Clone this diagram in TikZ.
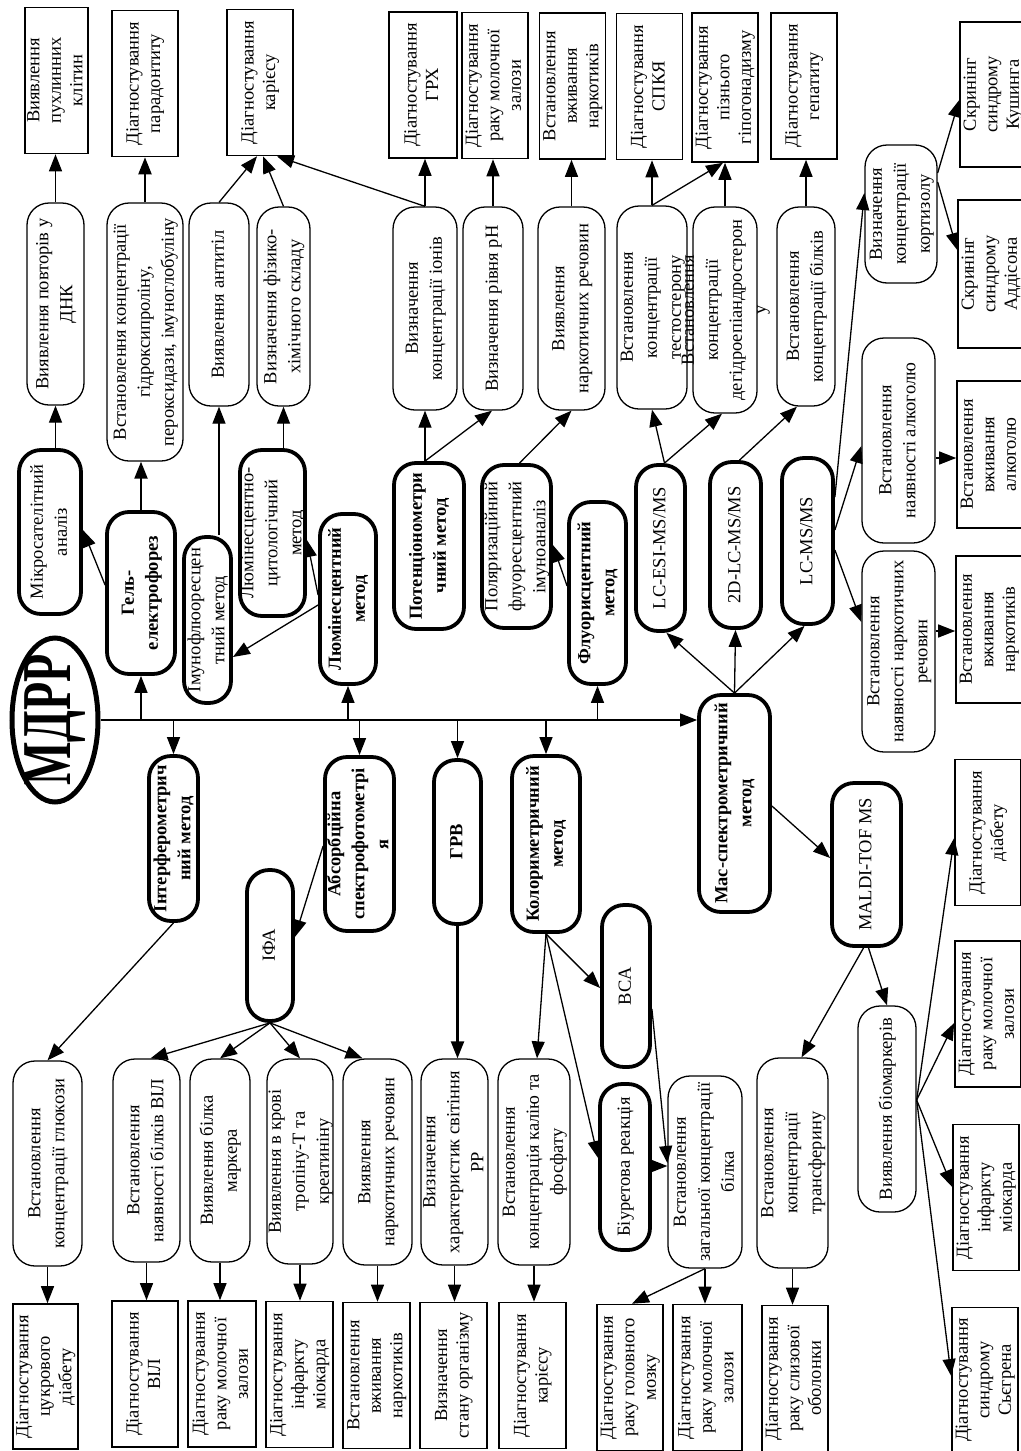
\documentclass[tikz,border=0pt]{standalone}
\usepackage{fontspec}
\setmainfont{Liberation Serif}
\usepackage{graphicx}
\usetikzlibrary{arrows.meta, shapes.geometric}
\newcommand{\uptext}[1]{\makebox[0pt]{\rotatebox{90}{\begin{tabular}{@{}c@{}}#1\end{tabular}}}}

\begin{document}
\begin{tikzpicture}[x=1pt, y=-1pt,
    res/.style={draw, line width=1.6pt, minimum width=66, minimum height=146,
                inner sep=0pt, font=\fontsize{18.5}{21.5}\selectfont},
    prc/.style={draw, line width=1.3pt, rounded corners=22, minimum width=62,
                minimum height=203, inner sep=0pt, font=\fontsize{18.5}{24}\selectfont},
    mth/.style={prc, line width=3.8pt, minimum height=164},
    bmth/.style={mth, font=\fontsize{18.5}{24}\selectfont\bfseries},
    arr/.style={-{Triangle[length=17pt,width=13pt]}, line width=1.3pt},
    bold arr/.style={arr, line width=2.2pt}]
  \useasboundingbox (0,0) rectangle (1020,1451);

  % top row of results
  \node[res, minimum width=63] (r1) at (56.5,80.5) {\uptext{Виявлення\\пухлинних\\клітин}};
  \node[res] (r2) at (145,83.5) {\uptext{Діагностування\\парадонтиту}};
  \node[res] (r3) at (260,82.5) {\uptext{Діагностування\\карієсу}};
  \node[res, minimum width=68] (r4) at (423,85) {\uptext{Діагностування\\ГРХ}};
  \node[res] (r5) at (495,85.5) {\uptext{Діагностування\\раку молочної\\залози}};
  \node[res] (r6) at (572.5,86) {\uptext{Встановлення\\вживання\\наркотиків}};
  \node[res] (r7) at (649.5,86.5) {\uptext{Діагностування\\СПКЯ}};
  \node[res, minimum height=149] (r8) at (725,87.5) {\uptext{Діагностування\\пізнього\\гіпогонадизму}};
  \node[res] (r9) at (804,86) {\uptext{Діагностування\\гепатиту}};
  \node[res, minimum height=145] (r10) at (993,94.5) {\uptext{Скринінг\\синдрому\\Кушинга}};
  \node[res, minimum height=148] (r11) at (991,274) {\uptext{Скринінг\\синдрому\\Аддісона}};

  % second row
  \node[prc, minimum width=57, minimum height=202] (p1) at (55.5,304) {\uptext{Виявлення повторів у\\ДНК}};
  \node[prc, minimum width=76, minimum height=258] (p2) at (145,332) {\uptext{Встановлення концентрації\\гідроксипроліну,\\пероксидази, імуноглобуліну}};
  \node[prc, minimum width=60] (p3) at (219,304.5) {\uptext{Виявлення антитіл}};
  \node[prc, minimum width=53, minimum height=199] (p4) at (283.5,306.5) {\uptext{Визначення фізико-\\хімічного складу}};
  \node[prc, minimum width=64] (p5) at (425,308.5) {\uptext{Визначення\\концентрації іонів}};
  \node[prc, minimum width=60] (p6) at (493,308.5) {\uptext{Визначення рівня pH}};
  \node[prc, minimum width=67] (p7) at (571.5,308.5) {\uptext{Виявлення\\наркотичних речовин}};
  \node[prc, minimum width=70] (p8) at (652,307.5) {\uptext{Встановлення\\концентрації\\тестостерону}};
  \node[prc, minimum width=64, minimum height=206] (p9) at (725,310) {\uptext{Встановлення\\концентрації\\дегідроепіандростерон\\у}};
  \node[prc, minimum width=58, minimum height=199] (p10) at (806,306.5) {\uptext{Встановлення\\концентрації білків}};
  \node[prc, minimum width=72, minimum height=138] (p11) at (901,214) {\uptext{Визначення\\концентрації\\кортизолу}};

  % methods above the axis
  \node[mth, minimum width=62, minimum height=164] (m1) at (50,532) {\uptext{Мікросателітний\\аналіз}};
  \node[bmth, minimum width=68, minimum height=162] (m2) at (141,593) {\uptext{Гель-\\електрофорез}};
  \node[mth, minimum width=47, minimum height=166] (m3) at (207.5,620) {\uptext{Імунофлюоресцен\\тний метод}};
  \node[mth, minimum width=65, minimum height=166] (m4) at (272.5,533) {\uptext{Люмінесцентно-\\цитологічний\\метод}};
  \node[bmth, minimum width=56, minimum height=170] (m5) at (348,599) {\uptext{Люмінесцентний\\метод}};
  \node[bmth, minimum width=70, minimum height=166] (m6) at (429,546) {\uptext{Потенціонометри\\чний метод}};
  \node[mth, minimum width=69, minimum height=163] (m7) at (516.5,546.5) {\uptext{Поляризаційний\\флуоресцентний\\імуноаналіз}};
  \node[bmth, minimum width=57, minimum height=182] (m8) at (597.5,593) {\uptext{Флуорисцентний\\метод}};
  \node[mth, minimum width=49, minimum height=166] (m9) at (660.5,548) {\uptext{LC-ESI-MS/MS}};
  \node[mth, minimum width=51, minimum height=166] (m10) at (735.5,545) {\uptext{2D-LC-MS/MS}};
  \node[mth, minimum width=51, minimum height=166] (m11) at (807.5,541) {\uptext{LC-MS/MS}};
  \node[prc, minimum width=73, minimum height=205] (p12) at (898.5,440.5) {\uptext{Встановлення\\наявності алкоголю}};
  \node[res, minimum height=147] (r12) at (990,454.5) {\uptext{Встановлення\\вживання\\алкоголю}};
  \node[prc, minimum width=73, minimum height=201] (p13) at (898.5,651.5) {\uptext{Встановлення\\наявності наркотичних\\речовин}};
  \node[res, minimum height=147] (r13) at (989,629.5) {\uptext{Встановлення\\вживання\\наркотиків}};

  % root and mass spectrometry
  \node[ellipse, draw, line width=5pt, minimum width=86, minimum height=164, inner sep=0pt] (mdpp) at (55,720) {};
  \node[inner sep=0pt] (mdpptext) at (mdpp) {\rotatebox{90}{\scalebox{0.66}[1]{\fontsize{70}{70}\selectfont\bfseries МДРР}}};
  \node[bmth, minimum width=71, minimum height=217] (m12) at (734.5,803.5) {\uptext{Мас-спектрометричний\\метод}};
  \node[mth, minimum width=69, minimum height=163] (m13) at (866.5,864.5) {\uptext{MALDI-TOF MS}};
  \node[prc, minimum width=58, minimum height=206] (p14) at (887,1109) {\uptext{Виявлення біомаркерів}};
  \node[res] (r14) at (988,832.5) {\uptext{Діагностування\\діабету}};
  \node[res] (r15) at (988,1014) {\uptext{Діагностування\\раку молочної\\залози}};
  \node[res] (r16) at (986,1197.5) {\uptext{Діагностування\\інфаркту\\міокарда}};
  \node[res, minimum height=145] (r17) at (985,1380) {\uptext{Діагностування\\синдрому\\Сьєгрена}};

  % methods below the axis
  \node[bmth, minimum width=49, minimum height=165] (m14) at (173.5,838.5) {\uptext{Інтерферометрич\\ний метод}};
  \node[bmth, minimum width=69, minimum height=174] (m15) at (359.5,844) {\uptext{Абсорбційна\\спектрофотометрі\\я}};
  \node[mth, minimum width=46, minimum height=151] (m16) at (270,945.5) {\uptext{ІФА}};
  \node[bmth, minimum width=47, minimum height=164] (m17) at (457.5,842) {\uptext{ГРВ}};
  \node[bmth, minimum width=68, minimum height=176] (m18) at (546,844) {\uptext{Колориметричний\\метод}};
  \node[mth, minimum width=48, minimum height=162] (m19) at (626,986) {\uptext{BCA}};
  \node[mth, minimum width=50, minimum height=166] (m20) at (625,1167) {\uptext{Біуретова реакція}};

  % bottom rows
  \node[prc, minimum width=69, minimum height=205] (q1) at (47.5,1163.5) {\uptext{Встановлення\\концентрації глюкози}};
  \node[prc, minimum width=67] (q2) at (146.5,1160.5) {\uptext{Встановлення\\наявності білків ВІЛ}};
  \node[prc, minimum width=60] (q3) at (220,1160.5) {\uptext{Виявлення білка\\маркера}};
  \node[prc, minimum width=66, minimum height=205] (q4) at (300,1161.5) {\uptext{Виявлення в крові\\тропіну-Т та\\креатиніну}};
  \node[prc, minimum width=69, minimum height=206] (q5) at (377.5,1162) {\uptext{Виявлення\\наркотичних речовин}};
  \node[prc, minimum width=67, minimum height=206] (q6) at (454.5,1162) {\uptext{Визначення\\характеристик світіння\\РР}};
  \node[prc, minimum width=72, minimum height=206] (q7) at (534,1162) {\uptext{Встановлення\\концентрація калію та\\фосфату}};
  \node[prc, minimum width=74, minimum height=192] (q8) at (705,1172) {\uptext{Встановлення\\загальної концентрації\\білка}};
  \node[prc, minimum width=71, minimum height=210] (q9) at (792.5,1163) {\uptext{Встановлення\\концентрації\\трансферину}};
  \node[res, minimum width=65, minimum height=145] (b1) at (45.5,1376.5) {\uptext{Діагностування\\цукрового\\діабету}};
  \node[res] (b2) at (145,1374) {\uptext{Діагностування\\ВІЛ}};
  \node[res, minimum width=68] (b3) at (222,1374) {\uptext{Діагностування\\раку молочної\\залози}};
  \node[res, minimum width=67] (b4) at (299.5,1374.5) {\uptext{Діагностування\\інфаркту\\міокарда}};
  \node[res, minimum width=67] (b5) at (376.5,1375.5) {\uptext{Встановлення\\вживання\\наркотиків}};
  \node[res, minimum width=67] (b6) at (453.5,1375.5) {\uptext{Визначення\\стану організму}};
  \node[res, minimum width=67] (b7) at (532.5,1375.5) {\uptext{Діагностування\\карієсу}};
  \node[res] (b8) at (630,1377.5) {\uptext{Діагностування\\раку головного\\мозку}};
  \node[res, minimum width=69] (b9) at (707.5,1377.5) {\uptext{Діагностування\\раку молочної\\залози}};
  \node[res] (b10) at (795,1378.5) {\uptext{Діагностування\\раку слизової\\оболонки}};

  % axis and its branches
  \draw[arr] (mdpp.east) -- (mdpp.east -| m12.west);
  \foreach \n in {m2,m5,m8,m14,m15,m17,m18}
    \draw[arr] (\n |- mdpp.east) -- (\n);

  % upper branches
  \draw[arr] (p1.south |- m1.north) -- (p1.south);
  \draw[arr] (p1.north) -- (p1.north |- r1.south);
  \draw[bold arr] (m2.north) -- (m2.north |- p2.south);
  \draw[bold arr] (p2.north) -- (p2.north |- r2.south);
  \draw[arr] (m2.west |- 0,585) -- (m1.east |- 0,530);
  \draw[arr] (p3.south |- m3.north) -- (p3.south);
  \draw[arr] (p4.south |- m4.north) -- (p4.south);
  \draw[arr] (m5.west |- 0,595) -- (m4.east |- 0,540);
  \draw[arr] (m5.west |- 0,605) -- (m3.east |- 0,657);
  \draw[arr] (p3.north) -- ([xshift=-3]r3.south);
  \draw[arr] (p4.north) -- ([xshift=3]r3.south);
  \draw[arr] (p5.north) -- ([xshift=17]r3.south);
  \foreach \a/\b in {p5/r4,p6/r5,p7/r6,p8/r7,p9/r8,p10/r9}
    \draw[arr] (\a.north) -- (\a.north |- \b.south);
  \draw[arr] (p8.north) -- ([xshift=-2]r8.south);
  \draw[arr] (p5.south |- m6.north) -- (p5.south);
  \draw[arr] (p5.south |- m6.north) -- ([xshift=-1]p6.south);
  \draw[arr] ([xshift=3]m7.north) -- (p7.south);
  \draw[arr] (m8.west |- 0,586) -- (m7.east |- 0,545);
  \draw[arr] ([xshift=4]m9.north) -- (p8.south);
  \draw[arr] ([xshift=4]m9.north) -- ([xshift=-3]p9.south);
  \draw[arr] ([xshift=4]m10.north) -- ([xshift=-9]p10.south);
  \draw[arr] (m12.north) -- ([xshift=6]m9.south);
  \draw[arr] (m12.north) -- (m10.south);
  \draw[arr] (m12.north) -- ([xshift=-3]m11.south);
  \draw[arr] (m11.east |- 0,497) -- (p11.west |- 0,193);
  \draw[arr] (m11.east |- 0,530) -- (p12.west |- 0,446);
  \draw[arr] (m11.east |- 0,550) -- (p13.west |- 0,622);
  \draw[arr] (p11.east |- 0,173) -- (r10.west |- 0,100);
  \draw[arr] (p11.east |- 0,182) -- (r11.west |- 0,250);
  \draw[arr] (p12.east |- 0,458) -- (r12.west |- 0,458);
  \draw[arr] (p13.east |- 0,631) -- (r13.west |- 0,631);

  % MALDI branch
  \draw[arr] (m12.east |- 0,806) -- (m13.west |- 0,858);
  \draw[arr] ([xshift=2]m13.south) -- (p14.north);
  \draw[arr] ([xshift=-3]m13.south) -- ([xshift=9]q9.north);
  \foreach \b/\y in {r14/838,r15/1023,r16/1187,r17/1376}
    \draw[arr] (p14.east |- 0,1100) -- (\b.west |- 0,\y);

  % lower branches
  \draw[arr] (m14.south) -- (q1.north);
  \draw[arr] (m15.west |- 0,846) -- (m16.east |- 0,937);
  \draw[arr] (m16.south) -- ([xshift=4]q2.north);
  \draw[arr] (m16.south) -- (q3.north);
  \draw[arr] (m16.south) -- (q4.north);
  \draw[arr] (m16.south) -- ([xshift=-15]q5.north);
  \draw[bold arr] (m17.south) -- (m17.south |- q6.north);
  \draw[arr] (m18.south) -- ([xshift=3]q7.north);
  \draw[arr] (m18.south) -- (m19.west |- 0,988);
  \draw[arr] (m18.south) -- (m20.west |- 0,1158);
  \draw[arr] (m19.east |- 0,1009) -- (q8.west |- 0,1163);
  \draw[arr] (m20.east |- 0,1166) -- (q8.west |- 0,1166);
  \foreach \a/\b in {q1/b1,q2/b2,q3/b3,q4/b4,q5/b5,q6/b6,q7/b7,q8/b9,q9/b10}
    \draw[arr] (\a.south) -- (\a.south |- \b.north);
  \draw[arr] (q8.south) -- ([xshift=2]b8.north);
\end{tikzpicture}
\end{document}
